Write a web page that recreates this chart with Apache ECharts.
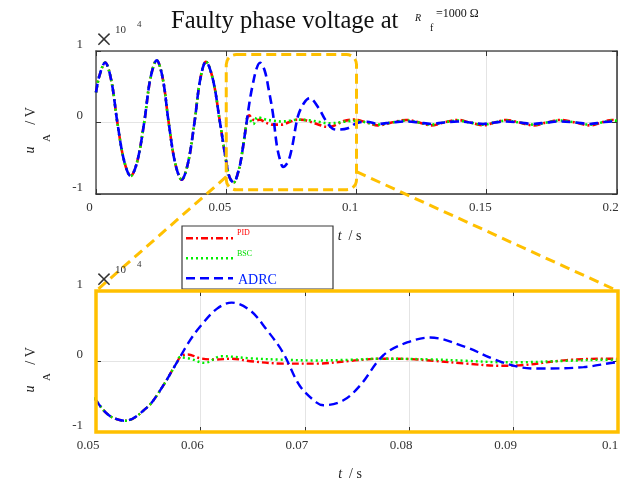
<!DOCTYPE html>
<html><head><meta charset="utf-8">
<script src="https://cdn.jsdelivr.net/npm/echarts/dist/echarts.min.js"></script>
<style>html,body{margin:0;padding:0;background:#fff}#c{width:622px;height:485px}</style>
</head><body><div id="c"></div>
<script>
// shared pre-fault waveform (all three controllers coincide)
const tPre = [0, 0.0012, 0.0035, 0.00585, 0.0082, 0.01075, 0.0133, 0.0158, 0.0185, 0.0209, 0.0233, 0.0256, 0.0279, 0.0304, 0.0329, 0.0353, 0.0378, 0.0400, 0.0422, 0.0449, 0.0476, 0.0500, 0.0513, 0.0528, 0.0549, 0.0561, 0.0578];
const vPre = [0.42, 0.64, 0.84, 0.59, 0, -0.53, -0.75, -0.55, 0, 0.62, 0.87, 0.62, 0, -0.57, -0.80, -0.57, 0, 0.60, 0.85, 0.60, 0, -0.55, -0.77, -0.84, -0.65, -0.42, 0.0];
// PID after fault
const tPID = [0.0581, 0.0588, 0.0600, 0.0614, 0.0630, 0.0648, 0.0680, 0.0711, 0.0745, 0.0772, 0.0800, 0.0823, 0.0855, 0.0887, 0.0905, 0.0951, 0.0990, 0.1040, 0.1082, 0.1135, 0.1192, 0.1240, 0.1286, 0.1335, 0.1389, 0.1435, 0.1486, 0.1530, 0.1576, 0.1625, 0.1678, 0.1730, 0.1781, 0.1840, 0.1896, 0.1940, 0.1980, 0.2000];
const vPID = [0.07, 0.10, 0.045, 0.028, 0.04, 0.004, -0.03, -0.03, 0.01, 0.04, 0.035, 0.01, -0.03, -0.06, -0.055, 0.02, 0.04, 0.0, -0.04, 0.0, 0.036, 0.0, -0.04, 0.0, 0.036, 0.0, -0.04, 0.0, 0.036, 0.0, -0.04, 0.0, 0.036, 0.0, -0.04, 0.0, 0.036, 0.03];
// BSC after fault
const tBSC = [0.0580, 0.0590, 0.0604, 0.0620, 0.0648, 0.0680, 0.0711, 0.0745, 0.0772, 0.0820, 0.0855, 0.0887, 0.0905, 0.0951, 0.0990, 0.1040, 0.1082, 0.1135, 0.1192, 0.1240, 0.1286, 0.1335, 0.1389, 0.1435, 0.1486, 0.1530, 0.1576, 0.1625, 0.1678, 0.1730, 0.1781, 0.1840, 0.1896, 0.1940, 0.1980, 0.2000];
const vBSC = [0.06, 0.04, -0.02, 0.075, 0.045, 0.025, 0.015, 0.025, 0.04, 0.03, 0.01, -0.01, -0.01, 0.01, 0.025, 0.0, -0.03, 0.0, 0.028, 0.0, -0.03, 0.0, 0.028, 0.0, -0.03, 0.0, 0.028, 0.0, -0.03, 0.0, 0.028, 0.0, -0.03, 0.0, 0.028, 0.025];
// ADRC after fault
const tADRC = [0.0590, 0.0600, 0.0616, 0.0630, 0.0648, 0.0663, 0.0679, 0.0695, 0.0711, 0.0718, 0.0737, 0.0753, 0.0775, 0.0798, 0.0820, 0.0855, 0.0880, 0.0906, 0.0925, 0.0967, 0.1000, 0.1040, 0.1082, 0.1135, 0.1192, 0.1240, 0.1286, 0.1335, 0.1389, 0.1435, 0.1486, 0.1530, 0.1576, 0.1625, 0.1678, 0.1730, 0.1781, 0.1840, 0.1896, 0.1940, 0.1980, 0.2000];
const vADRC = [0.30, 0.50, 0.75, 0.835, 0.72, 0.46, 0.13, -0.34, -0.58, -0.62, -0.55, -0.34, 0.085, 0.27, 0.34, 0.20, 0.04, -0.08, -0.10, -0.08, -0.01, 0.01, -0.02, 0.0, 0.015, 0.0, -0.02, 0.0, 0.015, 0.0, -0.02, 0.0, 0.015, 0.0, -0.02, 0.0, 0.015, 0.0, -0.02, 0.0, 0.015, 0.012];

const xTopRange = [0, 0.2], xTopStep = 0.05;
const xBotRange = [0.05, 0.1], xBotStep = 0.01;
const yRange = [-1, 1], yStep = 1;
const seriesNames = ['PID', 'BSC', 'ADRC'];

function pts(t, v) { return t.map((x, i) => [x, v[i]]); }
const dataSets = [
  pts(tPre.concat(tPID), vPre.concat(vPID)),
  pts(tPre.concat(tBSC), vPre.concat(vBSC)),
  pts(tPre.concat(tADRC), vPre.concat(vADRC))
];

const SERIF = '"Liberation Serif","Times New Roman",serif';
const colors = ['#ff0000', '#00ee00', '#0000ff'];
const dashes = [[7, 3, 2, 3], [2, 3], [9, 5]];
const fmt = v => String(+v.toFixed(4));

const chart = echarts.init(document.getElementById('c'), null, {renderer: 'canvas'});

function xAx(grid, range, step, pos, showLabel, name) {
  return {
    type: 'value', gridIndex: grid, position: pos, min: range[0], max: range[1], interval: step,
    axisLine: {show: grid === 0, onZero: false, lineStyle: {color: pos === 'bottom' ? '#333' : '#555', width: 1.5}},
    axisTick: {show: true, inside: true, length: 5, lineStyle: {color: '#333', width: 1}},
    axisLabel: {show: showLabel, margin: 7, fontFamily: SERIF, fontSize: 13, color: '#333', padding: [0, grid === 0 ? 13 : 16, 0, 0], formatter: fmt},
    splitLine: {show: pos === 'bottom', lineStyle: {color: '#e4e4e4', width: 1}},
    name: name || '', nameLocation: 'middle', nameGap: 35,
    nameTextStyle: {fontFamily: SERIF, fontSize: 14, color: '#222', padding: [0, 14, 0, 0],
      rich: {i: {fontFamily: SERIF, fontSize: 14, fontStyle: 'italic', color: '#222'}, n: {fontFamily: SERIF, fontSize: 14, color: '#222'}}}
  };
}
function yAx(grid, pos, showLabel) {
  return {
    type: 'value', gridIndex: grid, position: pos, min: yRange[0], max: yRange[1], interval: yStep,
    axisLine: {show: grid === 0, onZero: false, lineStyle: {color: pos === 'left' ? '#555' : '#333', width: 1.5}},
    axisTick: {show: true, inside: true, length: 5, lineStyle: {color: '#333'}},
    axisLabel: {show: showLabel, margin: 13, fontFamily: SERIF, fontSize: 13, color: '#333', verticalAlign: 'bottom', formatter: fmt},
    splitLine: {show: pos === 'left', lineStyle: {color: '#e4e4e4', width: 1}}
  };
}

const series = [];
[0, 1].forEach(g => {
  seriesNames.forEach((n, k) => {
    series.push({
      name: n, type: 'line', xAxisIndex: g * 2, yAxisIndex: g * 2, data: dataSets[k],
      showSymbol: false, smooth: 0.35, clip: true, z: 2 + k,
      lineStyle: {color: colors[k], width: g === 0 ? 2.6 : 2.4, type: dashes[k]}
    });
  });
});

chart.setOption({
  animation: false,
  backgroundColor: '#fff',
  grid: [
    {left: 96, top: 51, width: 521, height: 143, show: false},
    {left: 96, top: 291, width: 522, height: 141, show: false}
  ],
  xAxis: [
    xAx(0, xTopRange, xTopStep, 'bottom', true, '{i|t}{n|  / s}'),
    xAx(0, xTopRange, xTopStep, 'top', false),
    xAx(1, xBotRange, xBotStep, 'bottom', true, '{i|t}{n|  / s}'),
    xAx(1, xBotRange, xBotStep, 'top', false)
  ],
  yAxis: [yAx(0, 'left', true), yAx(0, 'right', false), yAx(1, 'left', true), yAx(1, 'right', false)],
  series: series
});

// annotation overlays
const px = (ax, v) => chart.convertToPixel({xAxisIndex: ax}, v);
const py = (ax, v) => chart.convertToPixel({yAxisIndex: ax}, v);
const zx0 = px(0, 0.05), zx1 = px(0, 0.1), zy0 = py(0, 0.95), zy1 = py(0, -0.94);
const bx0 = px(2, 0.05), bx1 = px(2, 0.1), by0 = py(2, 1), by1 = py(2, -1);
const YEL = '#ffc000';

function txt(x, y, text, size, opts) {
  opts = opts || {};
  return {
    type: 'text', x: x, y: y, rotation: opts.rot || 0, z: 120,
    style: {text: text, fontFamily: SERIF, fontSize: size, fontStyle: opts.italic ? 'italic' : 'normal',
      fill: opts.color || '#111', align: opts.align || 'left', textAlign: opts.align || 'left',
      verticalAlign: 'middle', textVerticalAlign: 'middle'}
  };
}

const g = [];
// title
g.push(txt(171, 22, 'Faulty phase voltage at', 24.6));
g.push(txt(415, 18.5, 'R', 10, {italic: true}));
g.push(txt(430, 28.5, 'f', 10));
g.push(txt(436, 14, '=1000 Ω', 12));
// exponent markers
[[41, 30, 24.5], [281, 270, 264.5]].forEach(a => {
  g.push(txt(104, a[0], '×', 30, {align: 'center', color: '#333'}));
  g.push(txt(115, a[1], '10', 11, {color: '#333'}));
  g.push(txt(137, a[2], '4', 9, {color: '#333'}));
});
// y-axis names (rotated)
[[150, 138, 116], [389, 377, 356]].forEach(a => {
  g.push(txt(30, a[0], 'u', 14, {italic: true, rot: Math.PI / 2, align: 'center', color: '#222'}));
  g.push(txt(47, a[1], 'A', 11, {rot: Math.PI / 2, align: 'center', color: '#222'}));
  g.push(txt(31, a[2], '/ V', 14, {rot: Math.PI / 2, align: 'center', color: '#222'}));
});
// zoom rectangle in top plot
g.push({type: 'rect', z: 110, shape: {x: zx0, y: zy0, width: zx1 - zx0, height: zy1 - zy0, r: 10},
  style: {fill: 'none', stroke: YEL, lineWidth: 3, lineDash: [10, 5]}});
// connectors
g.push({type: 'line', z: 110, shape: {x1: zx0, y1: zy1 - 13, x2: bx0, y2: by0}, style: {stroke: YEL, lineWidth: 3, lineDash: [10, 6]}});
g.push({type: 'line', z: 110, shape: {x1: zx1, y1: zy1 - 18, x2: bx1, y2: by0}, style: {stroke: YEL, lineWidth: 3, lineDash: [10, 6]}});
// legend box
g.push({type: 'rect', z: 115, shape: {x: 182, y: 226, width: 151, height: 63}, style: {fill: '#fff', stroke: '#3a3a3a', lineWidth: 1.2}});
const legY = [238.3, 258.3, 278.3];
seriesNames.forEach((n, k) => {
  g.push({type: 'line', z: 116, shape: {x1: 186, y1: legY[k], x2: 233, y2: legY[k]},
    style: {stroke: colors[k], lineWidth: 2.4, lineDash: dashes[k]}});
});
g.push(txt(237, 232.5, 'PID', 8, {color: '#ff0000'}));
g.push(txt(237, 253.5, 'BSC', 8, {color: '#00dd00'}));
g.push(txt(238, 280, 'ADRC', 14, {color: '#0022ff'}));
// bottom plot frame (yellow)
g.push({type: 'rect', z: 118, shape: {x: bx0, y: by0, width: bx1 - bx0, height: by1 - by0},
  style: {fill: 'none', stroke: YEL, lineWidth: 3.5}});

chart.setOption({graphic: g});
</script></body></html>
